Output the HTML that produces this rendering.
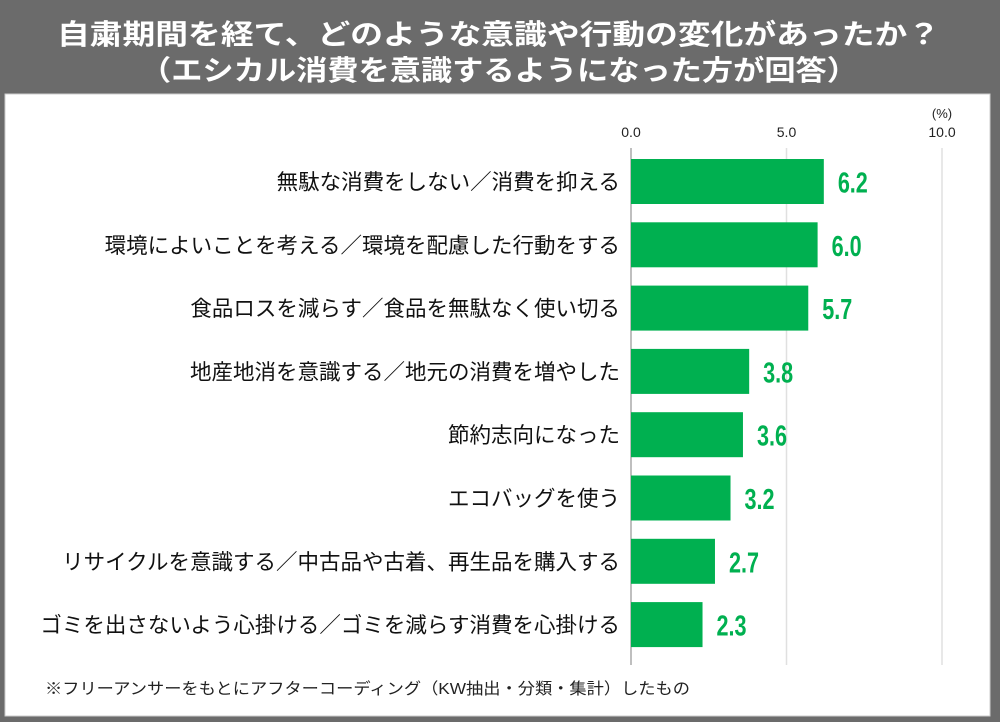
<!DOCTYPE html>
<html><head><meta charset="utf-8"><style>
body{margin:0;width:1000px;height:722px;background:#6b6b6b;overflow:hidden}
svg{display:block}
</style></head><body>
<svg width="1000" height="722" font-family="'Liberation Sans','Noto Sans CJK JP',sans-serif">
<rect x="0" y="0" width="1000" height="722" fill="#6b6b6b"/>
<rect x="5" y="94" width="985" height="622" fill="#fff" stroke="#ccc"/>
<text x="57" y="44" textLength="883" lengthAdjust="spacingAndGlyphs" fill="#fff" font-size="28" font-weight="bold">自粛期間を経て、どのような意識や行動の変化があったか？</text>
<text x="140" y="80" textLength="718" lengthAdjust="spacingAndGlyphs" fill="#fff" font-size="28" font-weight="bold">（エシカル消費を意識するようになった方が回答）</text>
<text x="942" y="118" text-anchor="middle" font-size="13" fill="#222">(%)</text>
<g id="axis"></g><g id="bars"></g>
<text x="45" y="694" textLength="645" lengthAdjust="spacingAndGlyphs" font-size="16" fill="#222">※フリーアンサーをもとにアフターコーディング（KW抽出・分類・集計）したもの</text>
</svg>
<script>
const categories=["無駄な消費をしない／消費を抑える","環境によいことを考える／環境を配慮した行動をする","食品ロスを減らす／食品を無駄なく使い切る","地産地消を意識する／地元の消費を増やした","節約志向になった","エコバッグを使う","リサイクルを意識する／中古品や古着、再生品を購入する","ゴミを出さないよう心掛ける／ゴミを減らす消費を心掛ける"];
const values=[6.2,6.0,5.7,3.8,3.6,3.2,2.7,2.3];
const ticks=[0,5,10];
const tickLabels=["0.0","5.0","10.0"];
const ns="http://www.w3.org/2000/svg";
const x0=631,ppu=31.1,rowTop=159,rowStep=63.3,barH=45;
const xs=v=>x0+v*ppu, ys=i=>rowTop+i*rowStep;
function mk(t,a,p){const e=document.createElementNS(ns,t);for(const k in a)e.setAttribute(k,a[k]);p.appendChild(e);return e;}
const ax=document.getElementById('axis'),bg=document.getElementById('bars');
ticks.forEach((t,i)=>{
 const l=mk('line',{x1:xs(t),x2:xs(t),y1:148,y2:665,stroke:i==0?'#aaa':'#e0e0e0','stroke-width':1.5},ax);
 
 
 const tx=mk('text',{x:xs(t),y:137,'text-anchor':'middle','font-size':14,fill:'#222'},ax);
 tx.textContent=tickLabels[i];
 
 
});
categories.forEach((c,i)=>{
 const y=ys(i);
 const r=mk('rect',{x:x0,y:y,width:xs(values[i])-x0,height:barH,fill:'#00b050'},bg);
 
 
 const lb=mk('text',{x:620,y:y+barH/2+8,'text-anchor':'end','font-size':21.5,fill:'#111'},bg);
 lb.textContent=c;
 
 
 const v=mk('text',{x:xs(values[i])+14,y:y+barH/2+11,'font-size':29,'font-weight':'bold',fill:'#00b050',textLength:30,lengthAdjust:'spacingAndGlyphs'},bg);
 v.textContent=values[i].toFixed(1);
 
 
});
</script>
</body></html>
